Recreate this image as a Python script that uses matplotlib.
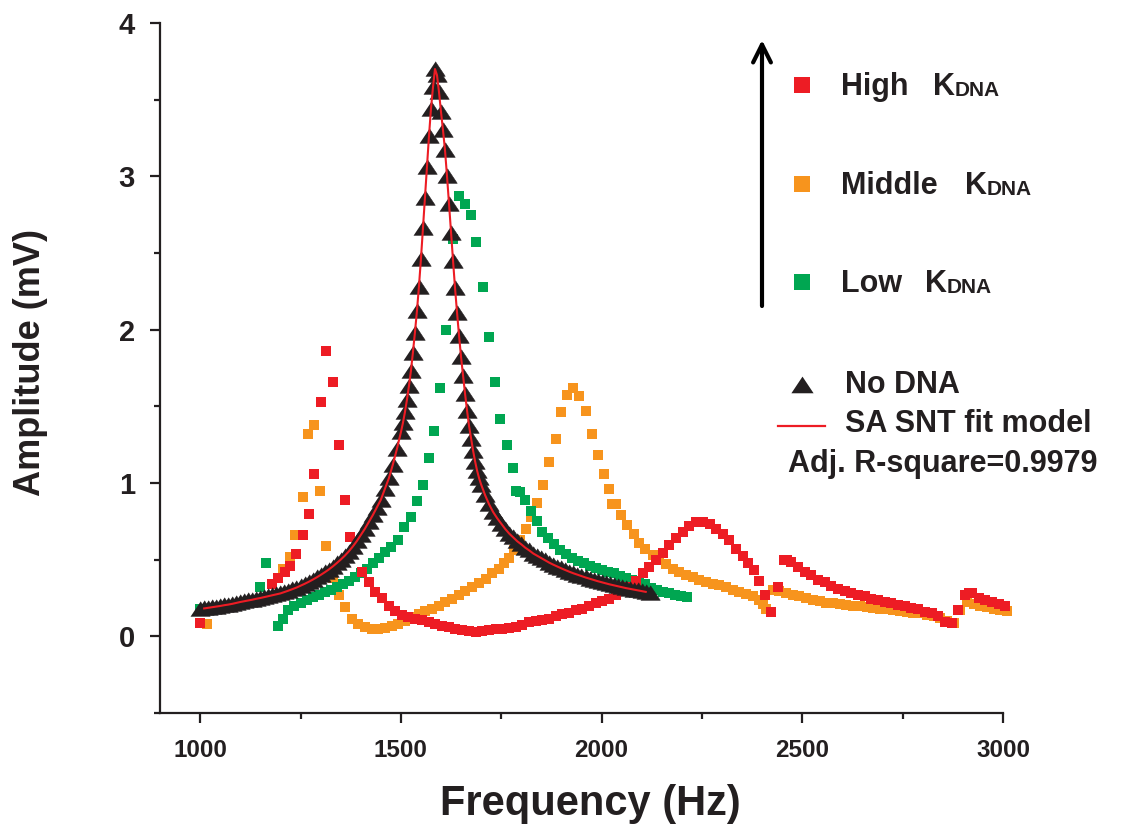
"""
Resonance amplitude vs. frequency for different DNA spring constants (K_DNA),
with the no-DNA reference sweep and its SA SNT fit.
"""

import matplotlib.pyplot as plt
import numpy as np
from matplotlib.ticker import MultipleLocator

# =============================================================================
# DATA
# =============================================================================

# ── No DNA sweep (triangles) ─────────────────────────────────────────────────
NODNA_F = [
    1000, 1010, 1020, 1030, 1040, 1050, 1060, 1070, 1080, 1090,
    1100, 1110, 1120, 1130, 1140, 1150, 1160, 1170, 1180, 1190,
    1200, 1210, 1220, 1230, 1240, 1250, 1260, 1270, 1280, 1290,
    1300, 1310, 1320, 1330, 1340, 1350, 1360, 1370, 1380, 1390,
    1400, 1410, 1420, 1430, 1440, 1450, 1460, 1470, 1480, 1490,
    1500, 1505, 1510, 1515, 1520, 1525, 1530, 1535, 1540, 1545,
    1550, 1555, 1560, 1565, 1570, 1575, 1580, 1585, 1590, 1595,
    1600, 1605, 1610, 1615, 1620, 1625, 1630, 1635, 1640, 1645,
    1650, 1655, 1660, 1665, 1670, 1675, 1680, 1685, 1690, 1695,
    1700, 1710, 1720, 1730, 1740, 1750, 1760, 1770, 1780, 1790,
    1800, 1810, 1820, 1830, 1840, 1850, 1860, 1870, 1880, 1890,
    1900, 1910, 1920, 1930, 1940, 1950, 1960, 1970, 1980, 1990,
    2000, 2010, 2020, 2030, 2040, 2050, 2060, 2070, 2080, 2090,
    2100, 2110, 2120,
]
NODNA_A = [
    0.180, 0.182, 0.186, 0.190, 0.194, 0.198, 0.203, 0.207, 0.212, 0.218,
    0.224, 0.229, 0.234, 0.239, 0.245, 0.250, 0.256, 0.262, 0.268, 0.274,
    0.280, 0.289, 0.298, 0.308, 0.318, 0.330, 0.342, 0.355, 0.369, 0.384,
    0.400, 0.417, 0.435, 0.455, 0.477, 0.500, 0.525, 0.553, 0.585, 0.620,
    0.660, 0.700, 0.745, 0.790, 0.840, 0.890, 0.960, 1.030, 1.120, 1.220,
    1.33, 1.39, 1.46, 1.54, 1.63, 1.73, 1.85, 1.98, 2.12, 2.28,
    2.46, 2.66, 2.86, 3.06, 3.26, 3.44, 3.58, 3.70, 3.66, 3.55,
    3.42, 3.30, 3.17, 3.00, 2.82, 2.63, 2.45, 2.27, 2.11, 1.96,
    1.82, 1.70, 1.58, 1.47, 1.37, 1.29, 1.21, 1.14, 1.08, 1.03,
    0.990, 0.920, 0.860, 0.810, 0.770, 0.735, 0.700, 0.670, 0.645, 0.620,
    0.600, 0.578, 0.560, 0.540, 0.525, 0.510, 0.495, 0.480, 0.467, 0.455,
    0.443, 0.432, 0.421, 0.411, 0.402, 0.393, 0.384, 0.376, 0.368, 0.360,
    0.353, 0.346, 0.339, 0.333, 0.327, 0.321, 0.315, 0.310, 0.305, 0.300,
    0.295, 0.290, 0.285,
]

# ── High K_DNA (red squares) ─────────────────────────────────────────────────
HIGH_F = [
    999, 1178, 1195, 1211, 1225, 1240, 1255, 1270, 1283, 1300,
    1314, 1330, 1345, 1360, 1374, 1403, 1420, 1436, 1453, 1470,
    1486, 1503, 1519, 1536, 1553, 1569, 1586, 1603, 1619, 1636,
    1653, 1669, 1686, 1702, 1719, 1736, 1752, 1769, 1786, 1802,
    1819, 1836, 1852, 1869, 1886, 1902, 1919, 1936, 1952, 1969,
    1986, 2002, 2019, 2036, 2052, 2069, 2086, 2102, 2119, 2136,
    2152, 2169, 2185, 2202, 2219, 2236, 2252, 2269, 2285, 2302,
    2318, 2335, 2352, 2364, 2379, 2393, 2408, 2423, 2439, 2455,
    2462, 2472, 2489, 2506, 2522, 2539, 2556, 2572, 2589, 2606,
    2622, 2639, 2656, 2672, 2689, 2706, 2722, 2739, 2756, 2772,
    2789, 2806, 2822, 2839, 2856, 2872, 2888, 2905, 2915, 2922,
    2939, 2956, 2972, 2989, 3006,
]
HIGH_A = [
    0.087, 0.34, 0.38, 0.42, 0.46, 0.54, 0.66, 0.80, 1.06, 1.53,
    1.86, 1.66, 1.25, 0.89, 0.65, 0.42, 0.355, 0.29, 0.25, 0.20,
    0.165, 0.137, 0.125, 0.115, 0.105, 0.094, 0.080, 0.066, 0.058, 0.050,
    0.040, 0.035, 0.030, 0.035, 0.040, 0.045, 0.050, 0.055, 0.061, 0.075,
    0.094, 0.100, 0.108, 0.115, 0.130, 0.145, 0.155, 0.170, 0.180, 0.200,
    0.215, 0.230, 0.246, 0.270, 0.295, 0.320, 0.360, 0.410, 0.450, 0.500,
    0.545, 0.595, 0.640, 0.680, 0.720, 0.745, 0.745, 0.730, 0.700, 0.665,
    0.625, 0.570, 0.525, 0.480, 0.430, 0.360, 0.270, 0.160, 0.320, 0.500,
    0.500, 0.485, 0.450, 0.420, 0.400, 0.370, 0.355, 0.330, 0.310, 0.295,
    0.285, 0.270, 0.260, 0.245, 0.235, 0.225, 0.215, 0.205, 0.195, 0.185,
    0.175, 0.160, 0.150, 0.130, 0.095, 0.087, 0.170, 0.270, 0.280, 0.280,
    0.250, 0.235, 0.225, 0.210, 0.196,
]

# ── Middle K_DNA (orange squares) ────────────────────────────────────────────
MID_F = [
    1016, 1207, 1224, 1236, 1255, 1269, 1284, 1299, 1313, 1330,
    1345, 1361, 1378, 1394, 1411, 1428, 1444, 1461, 1478, 1494,
    1511, 1528, 1544, 1561, 1578, 1594, 1611, 1628, 1644, 1661,
    1678, 1694, 1711, 1728, 1744, 1757, 1769, 1781, 1796, 1811,
    1823, 1840, 1854, 1869, 1886, 1898, 1915, 1929, 1944, 1961,
    1975, 1990, 2005, 2019, 2027, 2035, 2049, 2064, 2081, 2094,
    2109, 2127, 2144, 2160, 2177, 2194, 2210, 2227, 2243, 2260,
    2277, 2293, 2310, 2327, 2343, 2360, 2376, 2393, 2401, 2410,
    2427, 2443, 2460, 2477, 2493, 2510, 2527, 2543, 2560, 2577,
    2593, 2610, 2627, 2643, 2660, 2677, 2693, 2710, 2727, 2743,
    2760, 2777, 2793, 2810, 2827, 2843, 2860, 2877, 2893, 2910,
    2927, 2943, 2960, 2977, 2993, 3010,
]
MID_A = [
    0.078, 0.44, 0.52, 0.66, 0.91, 1.32, 1.38, 0.95, 0.59, 0.38,
    0.27, 0.19, 0.115, 0.080, 0.060, 0.050, 0.048, 0.052, 0.065, 0.080,
    0.100, 0.125, 0.148, 0.165, 0.180, 0.200, 0.225, 0.245, 0.270, 0.295,
    0.320, 0.350, 0.375, 0.410, 0.440, 0.480, 0.510, 0.560, 0.630, 0.700,
    0.780, 0.870, 0.990, 1.140, 1.290, 1.460, 1.575, 1.620, 1.570, 1.470,
    1.320, 1.180, 1.060, 0.960, 0.860, 0.860, 0.790, 0.725, 0.670, 0.610,
    0.570, 0.530, 0.500, 0.470, 0.440, 0.420, 0.400, 0.385, 0.366, 0.355,
    0.340, 0.333, 0.320, 0.300, 0.290, 0.275, 0.265, 0.235, 0.210, 0.180,
    0.300, 0.295, 0.280, 0.270, 0.260, 0.250, 0.240, 0.230, 0.220, 0.215,
    0.210, 0.205, 0.200, 0.195, 0.190, 0.185, 0.180, 0.175, 0.170, 0.165,
    0.160, 0.155, 0.150, 0.140, 0.130, 0.120, 0.100, 0.090, 0.170, 0.225,
    0.210, 0.200, 0.190, 0.180, 0.170, 0.165,
]

# ── Low K_DNA (green squares) ────────────────────────────────────────────────
LOW_F = [
    999, 1149, 1163, 1193, 1207, 1220, 1235, 1250, 1265, 1280,
    1295, 1310, 1325, 1340, 1355, 1370, 1385, 1400, 1415, 1430,
    1445, 1460, 1475, 1494, 1509, 1525, 1540, 1555, 1571, 1583,
    1598, 1613, 1629, 1644, 1659, 1675, 1688, 1704, 1719, 1734,
    1748, 1765, 1780, 1788, 1796, 1809, 1823, 1838, 1852, 1867,
    1882, 1897, 1912, 1927, 1942, 1957, 1972, 1987, 2002, 2017,
    2032, 2047, 2062, 2077, 2092, 2107, 2122, 2137, 2152, 2167,
    2182, 2197, 2212,
]
LOW_A = [
    0.180, 0.320, 0.480, 0.065, 0.115, 0.170, 0.195, 0.215, 0.235, 0.255,
    0.270, 0.290, 0.300, 0.320, 0.340, 0.360, 0.385, 0.410, 0.440, 0.475,
    0.510, 0.550, 0.580, 0.630, 0.710, 0.780, 0.880, 0.990, 1.160, 1.340,
    1.620, 2.000, 2.590, 2.870, 2.820, 2.750, 2.570, 2.280, 1.950, 1.660,
    1.420, 1.250, 1.100, 0.950, 0.940, 0.890, 0.820, 0.750, 0.680, 0.640,
    0.600, 0.565, 0.535, 0.510, 0.490, 0.475, 0.460, 0.445, 0.430, 0.420,
    0.410, 0.395, 0.380, 0.370, 0.355, 0.340, 0.315, 0.300, 0.290, 0.280,
    0.270, 0.260, 0.255,
]

# ── Tick positions / labels ──────────────────────────────────────────────────
X_TICKS = [1000, 1500, 2000, 2500, 3000]
Y_TICKS = [0, 1, 2, 3, 4]

# =============================================================================
# STYLE
# =============================================================================

RED    = "#ed1c24"
ORANGE = "#f7941d"
GREEN  = "#00a651"
BLACK  = "#231f20"

plt.rcParams["font.family"] = ["Liberation Sans", "DejaVu Sans"]
plt.rcParams["font.weight"] = "bold"

TRI = [(-1.0, -0.7), (1.0, -0.7), (0.0, 0.8)]     # wide, flat triangle marker

W, H = 1121, 830
L, R, T, B = 160, 1003, 23, 713                    # axes box in pixels

fig = plt.figure(figsize=(W / 100, H / 100), dpi=100, facecolor="white")
ax = fig.add_axes([L / W, 1 - B / H, (R - L) / W, (B - T) / H])


def axpos(px, py):
    """pixel position in the figure -> axes fraction"""
    return (px - L) / (R - L), (B - py) / (B - T)


# =============================================================================
# PLOT
# =============================================================================

sq = dict(ls="none", marker="s", ms=6.8, mew=0, clip_on=False)
ax.plot(MID_F,  MID_A,  color=ORANGE, zorder=2.0, **sq)
ax.plot(LOW_F,  LOW_A,  color=GREEN,  zorder=2.1, **sq)
ax.plot(HIGH_F, HIGH_A, color=RED,    zorder=2.2, **sq)

ax.plot(NODNA_F, NODNA_A, ls="none", marker=TRI, ms=14, mew=0.4,
        color=BLACK, mec=BLACK, zorder=3)
ax.plot(NODNA_F[1:-1], NODNA_A[1:-1], color=RED, lw=1.5, zorder=4)

# ── Axes ─────────────────────────────────────────────────────────────────────
ax.set_xlim(900, 3000)
ax.set_ylim(-0.5, 4)
ax.set_xticks(X_TICKS)
ax.set_yticks(Y_TICKS)
ax.xaxis.set_minor_locator(MultipleLocator(250))
ax.yaxis.set_minor_locator(MultipleLocator(0.5))

for side in ("top", "right"):
    ax.spines[side].set_visible(False)
for side in ("left", "bottom"):
    ax.spines[side].set_linewidth(1.6)
    ax.spines[side].set_color(BLACK)

ax.tick_params(which="major", direction="out", length=7, width=1.6, color=BLACK)
ax.tick_params(which="minor", direction="out", length=4.5, width=1.6, color=BLACK)
ax.tick_params(axis="x", which="major", pad=12)
ax.tick_params(axis="y", which="major", pad=11)

for lab in ax.get_xticklabels():
    lab.set_fontsize(17.5)
    lab.set_fontweight("bold")
    lab.set_color(BLACK)
for lab in ax.get_yticklabels():
    lab.set_fontsize(21)
    lab.set_fontweight("heavy")
    lab.set_color(BLACK)

ax.set_xlabel("Frequency (Hz)", fontsize=30, fontweight="bold", color=BLACK)
ax.set_ylabel("Amplitude (mV)", fontsize=26, fontweight="bold", color=BLACK)
ax.xaxis.set_label_coords(*axpos(590, 784))
ax.yaxis.set_label_coords(*axpos(48, 362))

# ── Legend / annotation block ────────────────────────────────────────────────
ax.annotate("", xy=axpos(762, 40), xytext=axpos(762, 306),
            xycoords="axes fraction", textcoords="axes fraction",
            arrowprops=dict(arrowstyle="->", lw=3, color="black",
                            mutation_scale=32, shrinkA=0, shrinkB=0),
            annotation_clip=False)

LEGEND_ROWS = [
    ("High",   RED,    85,  95, 933),
    ("Middle", ORANGE, 184, 194, 965),
    ("Low",    GREEN,  282, 292, 925),
]
for name, col, sy, base, kx in LEGEND_ROWS:
    ax.plot(*axpos(802, sy), ls="none", marker="s", ms=12, mew=0, color=col,
            transform=ax.transAxes, clip_on=False)
    ax.text(*axpos(841, base), name, transform=ax.transAxes, fontsize=22,
            fontweight="bold", va="baseline", color=BLACK)
    k = ax.text(*axpos(kx, base), "K", transform=ax.transAxes, fontsize=22,
                fontweight="bold", va="baseline", color=BLACK)
    ax.annotate("DNA", xy=(1, 0), xycoords=k, xytext=(0, 1.5),
                textcoords="offset points", fontsize=15, fontweight="bold",
                va="bottom", ha="left", color=BLACK)

ax.plot(*axpos(802, 385), ls="none", marker=TRI, ms=16, mew=0, color=BLACK,
        transform=ax.transAxes, clip_on=False)
ax.text(*axpos(845, 393), "No DNA", transform=ax.transAxes, fontsize=22,
        fontweight="bold", va="baseline", color=BLACK)
ax.plot([axpos(778, 426)[0], axpos(825, 426)[0]], [axpos(778, 426)[1]] * 2,
        color=RED, lw=1.6, transform=ax.transAxes, clip_on=False)
ax.text(*axpos(845, 432), "SA SNT fit model", transform=ax.transAxes,
        fontsize=22, fontweight="bold", va="baseline", color=BLACK)
ax.text(*axpos(788, 472), "Adj. R-square=0.9979", transform=ax.transAxes,
        fontsize=22, fontweight="bold", va="baseline", color=BLACK)

fig.savefig("out.png", dpi=100, facecolor="white")
